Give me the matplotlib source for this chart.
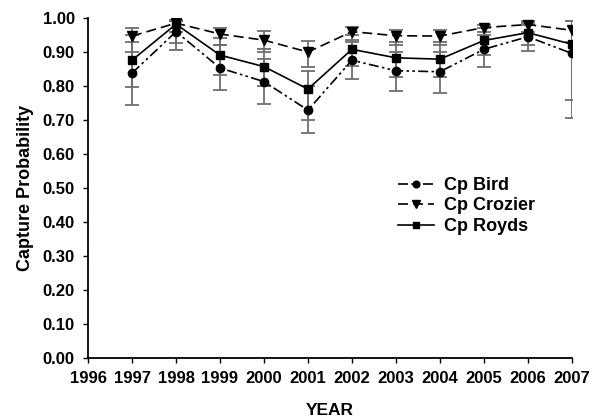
import matplotlib
matplotlib.use("Agg")
import matplotlib.pyplot as plt
import numpy as np

plt.rcParams["font.family"] = ["Liberation Sans", "DejaVu Sans"]
plt.rcParams["font.weight"] = "bold"

years = [1997, 1998, 1999, 2000, 2001, 2002, 2003, 2004, 2005, 2006, 2007]

bird = [0.838, 0.960, 0.853, 0.813, 0.729, 0.876, 0.845, 0.842, 0.908, 0.945, 0.896]
bird_low = [0.744, 0.906, 0.788, 0.747, 0.663, 0.820, 0.785, 0.780, 0.855, 0.903, 0.705]
bird_high = [0.930, 0.990, 0.920, 0.880, 0.800, 0.930, 0.900, 0.900, 0.960, 0.980, 0.990]

crozier = [0.947, 0.985, 0.953, 0.935, 0.900, 0.960, 0.948, 0.947, 0.972, 0.981, 0.964]
crozier_low = [0.900, 0.960, 0.920, 0.900, 0.855, 0.935, 0.920, 0.920, 0.950, 0.960, 0.930]
crozier_high = [0.970, 0.995, 0.970, 0.963, 0.933, 0.975, 0.965, 0.965, 0.980, 0.990, 0.990]

royds = [0.876, 0.982, 0.891, 0.857, 0.791, 0.908, 0.883, 0.879, 0.934, 0.957, 0.923]
royds_low = [0.797, 0.927, 0.832, 0.800, 0.700, 0.858, 0.828, 0.827, 0.890, 0.920, 0.760]
royds_high = [0.950, 0.990, 0.940, 0.910, 0.845, 0.950, 0.930, 0.930, 0.970, 0.985, 0.990]

fig = plt.figure(figsize=(5.95, 4.2), dpi=100)
ax = fig.add_axes([0.148, 0.148, 0.813, 0.809])

series = [
    ("Cp Bird", bird, bird_low, bird_high, "o", (0, (6, 2, 1.5, 2, 1.5, 2)), 6),
    ("Cp Crozier", crozier, crozier_low, crozier_high, "v", (0, (6, 3)), 6.5),
    ("Cp Royds", royds, royds_low, royds_high, "s", "-", 5.5),
]

for label, vals, low, high, marker, ls, ms in series:
    v = np.array(vals)
    yerr = [v - np.array(low), np.array(high) - v]
    ax.errorbar(years, v, yerr=yerr, fmt="none", ecolor="#6e6e6e",
                elinewidth=1.3, capsize=5, capthick=1.3, zorder=2)
    ax.plot(years, v, color="black", linestyle=ls, linewidth=1.2,
            marker=marker, markersize=ms, markerfacecolor="black",
            markeredgecolor="black", label=label, zorder=3)

ax.set_xlim(1996, 2007)
ax.set_ylim(0, 1.0)
ax.set_xticks(range(1996, 2008))
ax.set_yticks(np.arange(0, 1.01, 0.1))
ax.set_yticklabels([f"{t:.2f}" for t in np.arange(0, 1.01, 0.1)])
ax.tick_params(direction="out", length=3.5, width=1, labelsize=12, pad=6)
for lab in ax.get_xticklabels() + ax.get_yticklabels():
    lab.set_fontweight("bold")
ax.spines["top"].set_visible(False)
ax.spines["right"].set_visible(False)
ax.spines["left"].set_linewidth(1.3)
ax.spines["bottom"].set_linewidth(1.3)

ax.set_xlabel("YEAR", fontsize=12.5, fontweight="bold", labelpad=12)
ax.set_ylabel("Capture Probability", fontsize=13, fontweight="bold", labelpad=6)

leg = ax.legend(loc="center left", bbox_to_anchor=(0.64, 0.447), frameon=False,
                fontsize=13, handlelength=2.0, labelspacing=0.2, handletextpad=0.55,
                borderaxespad=0, borderpad=0, markerscale=0.8)
for t in leg.get_texts():
    t.set_fontweight("bold")

fig.savefig("out.png", dpi=100)
